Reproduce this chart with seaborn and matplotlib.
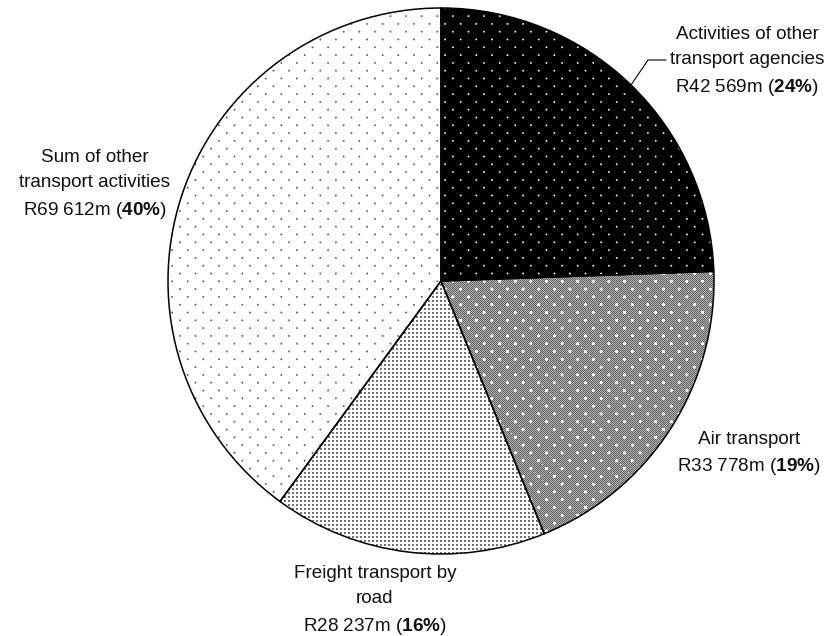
import numpy as np
import matplotlib
matplotlib.use("Agg")
import matplotlib.pyplot as plt
import seaborn as sns

# Transport industry income by activity (R million)
categories = [
    "Activities of other\ntransport agencies",
    "Air transport",
    "Freight transport by\nroad",
    "Sum of other\ntransport activities",
]
values_rm = [42569, 33778, 28237, 69612]
value_labels = ["R42 569m", "R33 778m", "R28 237m", "R69 612m"]
pct_labels = ["24", "19", "16", "40"]
base_tones = ["black", "grey", "lightgrey", "white"]

sns.set_theme(style="white")
plt.rcParams["font.family"] = ["Liberation Sans", "DejaVu Sans"]
plt.rcParams["mathtext.fontset"] = "custom"
plt.rcParams["mathtext.rm"] = "Liberation Sans"
plt.rcParams["mathtext.it"] = "Liberation Sans:italic"
plt.rcParams["mathtext.bf"] = "Liberation Sans:bold"

W, H = 828, 636
CX, CY, R = 441, 281, 273  # pie centre and radius in pixels

fig = plt.figure(figsize=(W / 100, H / 100), dpi=100)
ax = fig.add_axes([0, 0, 1, 1])

wedges, _ = ax.pie(
    values_rm,
    startangle=90,
    counterclock=False,
    radius=1,
    colors=base_tones,
    wedgeprops=dict(edgecolor="black", linewidth=1.1),
)
x0, x1 = -CX / R, (W - CX) / R
y0, y1 = -(H - CY) / R, CY / R
ax.set_xlim(x0, x1)
ax.set_ylim(y0, y1)
ax.set_aspect("auto")
ax.axis("off")


def to_data(px, py):
    return (px - CX) / R, (CY - py) / R


# pixel-level fill textures
yy, xx = np.mgrid[0:H, 0:W].astype(float)


def lattice(px=15.6, py=7.8, r=1.4, ox=0.0, oy=0.0):
    j = np.round((yy - oy) / py)
    off = (j % 2) * px / 2 + ox
    i = np.round((xx - off) / px)
    d = np.hypot(xx - (i * px + off), yy - (j * py + oy))
    return np.clip(r - d, 0, 1)


dots = lattice(r=1.4)
tex_black = dots * 0.95
checker = np.where((xx + yy) % 2 == 0, 0.40, 0.68)
tex_grey = np.maximum(checker, lattice(r=2.3) * 1.0)
tex_grey = np.maximum(tex_grey, lattice(r=1.0, ox=3.9, oy=3.9) * 0.92)
tex_light = 1 - 0.55 * (((xx % 4) < 2) & ((yy % 4) < 2))
tex_white = 1 - dots * 0.65
textures = [tex_black, tex_grey, tex_light, tex_white]

for wedge, tex in zip(wedges, textures):
    rgb = np.dstack([tex, tex, tex])
    im = ax.imshow(rgb, extent=(x0, x1, y0, y1), origin="upper",
                   interpolation="nearest", zorder=2, vmin=0, vmax=1)
    im.set_clip_path(wedge)
    wedge.set_facecolor("none")
    wedge.set_zorder(3)

ax.set_xlim(x0, x1)
ax.set_ylim(y0, y1)
ax.set_aspect("auto")

# labels
label_pos = [(747, 62), (749, 454), (375, 601), (95, 185)]
for cat, val, pct, (px, py) in zip(categories, value_labels, pct_labels, label_pos):
    tx, ty = to_data(px, py)
    ax.text(tx, ty, f"{cat}\n{val} ($\\mathbf{{{pct}\\%}}$)",
            ha="center", va="center", multialignment="center",
            fontsize=13.6, color="#111111", linespacing=1.58, zorder=5)

# leader line for the top-right slice
lx, ly = zip(*[to_data(631, 85), to_data(648, 60), to_data(666, 60)])
ax.plot(lx, ly, color="black", linewidth=0.8, zorder=5)

fig.savefig("out.png", dpi=100)
